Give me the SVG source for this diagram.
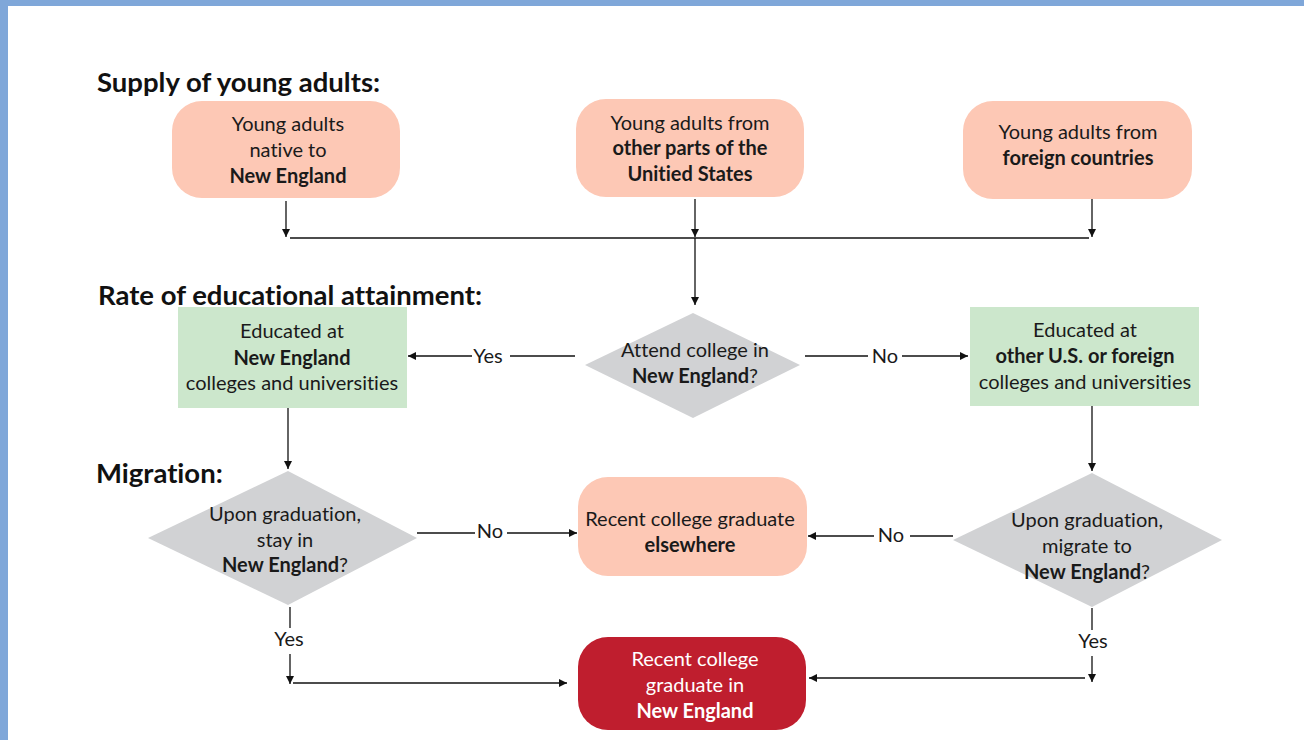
<svg xmlns="http://www.w3.org/2000/svg" width="1304" height="740" viewBox="0 0 1304 740">
<defs>
<marker id="ah" viewBox="0 0 10 10" refX="10" refY="5" markerWidth="8" markerHeight="8" markerUnits="userSpaceOnUse" orient="auto">
<path d="M0,0 L10,5 L0,10 z" fill="#111"/>
</marker>
<style>
text{font-family:Lato,"Open Sans","Liberation Sans",sans-serif;font-size:20px;fill:#1a1a1a;text-anchor:middle;font-variant-ligatures:none;font-feature-settings:"liga" 0,"dlig" 0}
.b{font-weight:bold}
.h{font-weight:bold;font-size:27.5px;text-anchor:start;fill:#111}
.w{fill:#fff}
.salmon{fill:#FDC8B5}
.green{fill:#CCE7CC}
.gray{fill:#D1D2D4}
.red{fill:#BF1E2E}
.c line,.c polyline{stroke:#111;stroke-width:1.3;fill:none}
.a{marker-end:url(#ah)}
</style>
</defs>
<rect x="0" y="0" width="1304" height="740" fill="#fff"/>
<rect x="0" y="0" width="1304" height="6" fill="#7FA7D9"/>
<rect x="0" y="0" width="8" height="740" fill="#7FA7D9"/>

<g id="headings">
<text class="h" x="97" y="92">Supply of young adults:</text>
<text class="h" x="98" y="305">Rate of educational attainment:</text>
<text class="h" x="96" y="483">Migration:</text>
</g>

<g id="native">
<rect class="salmon" x="172" y="101" width="228" height="97" rx="30"/>
<text x="288" y="131">Young adults</text>
<text x="288" y="157">native to</text>
<text class="b" x="288" y="183">New England</text>
</g>
<g id="otherUS">
<rect class="salmon" x="576" y="99" width="228" height="98" rx="30"/>
<text x="690" y="130">Young adults from</text>
<text class="b" x="690" y="155">other parts of the</text>
<text class="b" x="690" y="181">Unitied States</text>
</g>
<g id="foreign">
<rect class="salmon" x="963" y="101" width="229" height="98" rx="30"/>
<text x="1078" y="139">Young adults from</text>
<text class="b" x="1078" y="165">foreign countries</text>
</g>

<g id="eduNE">
<rect class="green" x="178" y="307" width="229" height="101"/>
<text x="292" y="338">Educated at</text>
<text class="b" x="292" y="365">New England</text>
<text x="292" y="390">colleges and universities</text>
</g>
<g id="attend">
<polygon class="gray" points="693,313 800,365 693,418 585,365"/>
<text x="695" y="357">Attend college in</text>
<text x="695" y="383"><tspan class="b">New England</tspan>?</text>
</g>
<g id="eduOther">
<rect class="green" x="970" y="307" width="229" height="99"/>
<text x="1085" y="337">Educated at</text>
<text class="b" x="1085" y="363">other U.S. or foreign</text>
<text x="1085" y="389">colleges and universities</text>
</g>

<g id="stay">
<polygon class="gray" points="288,471 417,538 288,605 148,538"/>
<text x="285" y="521">Upon graduation,</text>
<text x="285" y="547">stay in</text>
<text x="285" y="572"><tspan class="b">New England</tspan>?</text>
</g>
<g id="elsewhere">
<rect class="salmon" x="578" y="477" width="229" height="99" rx="30"/>
<text x="690" y="526">Recent college graduate</text>
<text class="b" x="690" y="552">elsewhere</text>
</g>
<g id="migrate">
<polygon class="gray" points="1092,473 1222,540 1092,607 953,540"/>
<text x="1087" y="527">Upon graduation,</text>
<text x="1087" y="553">migrate to</text>
<text x="1087" y="579"><tspan class="b">New England</tspan>?</text>
</g>

<g id="gradNE">
<rect class="red" x="578" y="637" width="228" height="93" rx="30"/>
<text class="w" x="695" y="666">Recent college</text>
<text class="w" x="695" y="692">graduate in</text>
<text class="w b" x="695" y="718">New England</text>
</g>

<g id="connectors" class="c">
<line class="a" x1="286" y1="201" x2="286" y2="237"/>
<line class="a" x1="695" y1="199" x2="695" y2="237"/>
<line class="a" x1="1092" y1="199" x2="1092" y2="237"/>
<line x1="290" y1="238" x2="1089" y2="238"/>
<line class="a" x1="695" y1="238" x2="695" y2="305"/>

<line x1="575" y1="356" x2="510" y2="356"/>
<line class="a" x1="472" y1="356" x2="408" y2="356"/>
<text x="488" y="363" style="stroke:none">Yes</text>

<line x1="805" y1="356" x2="868" y2="356"/>
<line class="a" x1="902" y1="356" x2="968" y2="356"/>
<text x="885" y="363" style="stroke:none">No</text>

<line class="a" x1="288" y1="408" x2="288" y2="469"/>
<line class="a" x1="1092" y1="406" x2="1092" y2="471"/>

<line x1="417" y1="533" x2="475" y2="533"/>
<line class="a" x1="507" y1="533" x2="577" y2="533"/>
<text x="490" y="538" style="stroke:none">No</text>

<line x1="953" y1="536" x2="910" y2="536"/>
<line class="a" x1="874" y1="536" x2="808" y2="536"/>
<text x="891" y="542" style="stroke:none">No</text>

<line x1="290" y1="607" x2="290" y2="628"/>
<text x="289" y="646" style="stroke:none">Yes</text>
<line class="a" x1="290" y1="654" x2="290" y2="684"/>
<line class="a" x1="293" y1="683" x2="567" y2="683"/>

<line x1="1092" y1="608" x2="1092" y2="630"/>
<text x="1093" y="648" style="stroke:none">Yes</text>
<line class="a" x1="1092" y1="656" x2="1092" y2="682"/>
<line class="a" x1="1085" y1="678" x2="809" y2="678"/>
</g>
</svg>
